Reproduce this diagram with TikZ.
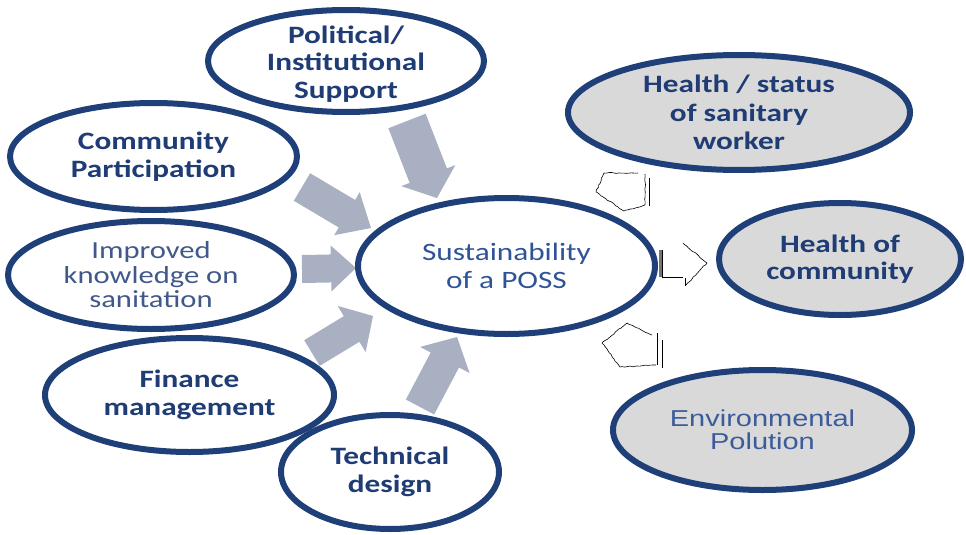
\documentclass[tikz,border=0pt]{standalone}
\usepackage{fontspec}
\newfontfamily\cfont[FakeStretch=1.25]{Carlito}
\newfontfamily\efont[FakeStretch=1.26]{Liberation Sans}
\usetikzlibrary{shapes.geometric,calc,decorations.pathmorphing}
\definecolor{navy}{HTML}{1F3F78}
\definecolor{navytext}{HTML}{1F3C74}
\definecolor{midblue}{HTML}{2F5496}
\definecolor{envblue}{HTML}{3B5B9B}
\definecolor{bubgray}{HTML}{D9D9D9}
\definecolor{arrowgray}{HTML}{A8B0C2}
\tikzset{
  bub/.style={ellipse, draw=navy, line width=6pt, fill=white, inner sep=0pt},
  graybub/.style={bub, fill=bubgray},
  boldtxt/.style={align=center, text=navytext, inner sep=0pt, font=\cfont\bfseries\fontsize{25}{27.5}\selectfont},
  regtxt/.style={align=center, text=midblue, inner sep=0pt, font=\cfont\fontsize{25}{27.5}\selectfont},
  imptxt/.style={align=center, text=navytext!85, inner sep=0pt, font=\cfont\fontsize{24.5}{24.5}\selectfont},
  envtxt/.style={align=center, text=envblue, inner sep=0pt, font=\efont\fontsize{23}{23.5}\selectfont},
  hollow/.style={draw=black, line width=0.6pt, decorate, decoration={random steps, segment length=2.5pt, amplitude=0.5pt}},
  thinline/.style={draw=black, line width=0.6pt}
}
\newcommand\barrow[5]{%
  \coordinate (#1-h) at ($(#2)!#5!(#1)$);
  \fill[arrowgray] ($(#1)!#3!90:(#2)$) -- ($(#1-h)!#3!90:(#2)$) -- ($(#1-h)!#4!90:(#2)$) -- (#2)
    -- ($(#1-h)!#4!-90:(#2)$) -- ($(#1-h)!#3!-90:(#2)$) -- ($(#1)!#3!-90:(#2)$) -- cycle;}
\begin{document}
\begin{tikzpicture}[x=1pt,y=-1pt]
\pgfmathsetseed{7}
\useasboundingbox (0,0) rectangle (966,535);
% block arrows (tails and tips)
\coordinate (tA) at (407,121); \coordinate (pA) at (437,198);
\coordinate (tB) at (302,187); \coordinate (pB) at (371,228);
\coordinate (tC) at (302,269); \coordinate (pC) at (356,268);
\coordinate (tD) at (312,353); \coordinate (pD) at (373,316);
\coordinate (tE) at (420,407); \coordinate (pE) at (457,337);
\barrow{tA}{pA}{20pt}{29pt}{24pt}
\barrow{tB}{pB}{16pt}{25pt}{28pt}
\barrow{tC}{pC}{14pt}{23pt}{25pt}
\barrow{tD}{pD}{15pt}{27pt}{25pt}
\barrow{tE}{pE}{16pt}{28pt}{26pt}
% ellipses
\node[bub, minimum width=276pt, minimum height=102pt] (pol) at (346,61) {};
\node[bub, minimum width=287pt, minimum height=107pt] (com) at (153.5,156.5) {};
\node[bub, minimum width=286pt, minimum height=108pt] (imp) at (151,275) {};
\node[bub, minimum width=289pt, minimum height=114pt] (fin) at (189.5,395) {};
\node[bub, minimum width=218pt, minimum height=114pt] (tec) at (390,472) {};
\node[bub, minimum width=297pt, minimum height=136pt] (sus) at (506.5,266) {};
\node[graybub, minimum width=342pt, minimum height=115pt] (hss) at (739,112.5) {};
\node[graybub, minimum width=242pt, minimum height=112pt] (hoc) at (840,259) {};
\node[graybub, minimum width=299pt, minimum height=120pt] (env) at (762.5,430) {};
% texts
\node[boldtxt] (pol-t) at ([yshift=-3pt]pol.center) {Political/\\Institutional\\Support};
\node[boldtxt] (com-t) at (com.center) {Community\\Participation};
\node[imptxt] (imp-t) at (imp.center) {Improved\\knowledge on\\sanitation};
\node[boldtxt] (fin-t) at (fin.center) {Finance\\management};
\node[boldtxt] (tec-t) at (tec.center) {Technical\\design};
\node[regtxt] (sus-t) at (sus.center) {Sustainability\\of a POSS};
\node[boldtxt, font=\cfont\bfseries\fontsize{25}{28.5}\selectfont] (hss-t) at (hss.center) {Health / status\\of sanitary\\worker};
\node[boldtxt] (hoc-t) at (hoc.center) {Health of\\community};
\node[envtxt] (env-t) at (env.center) {Environmental\\Polution};
% hollow (broken) arrows on the right
\draw[hollow] (645,174) -- (645,205) -- (624,211) -- (596,192) -- (604,173) -- (638,173);
\draw[thinline] (649,178) -- (649,206);
\draw[line width=2.5pt, black!55] (660.5,250) -- (660.5,277);
\draw[thinline] (662.5,250) -- (662.5,277) -- (683,277);
\draw[hollow] (683,243) -- (707,263) -- (686,285);
\draw[thinline] (685,278) -- (685,286);
\draw[hollow] (652,335) -- (627,323) -- (602,343) -- (620,367) -- (656,365);
\draw[thinline] (657,333) -- (657,365);
\draw[thinline] (662,340) -- (662,368);
\end{tikzpicture}
\end{document}
